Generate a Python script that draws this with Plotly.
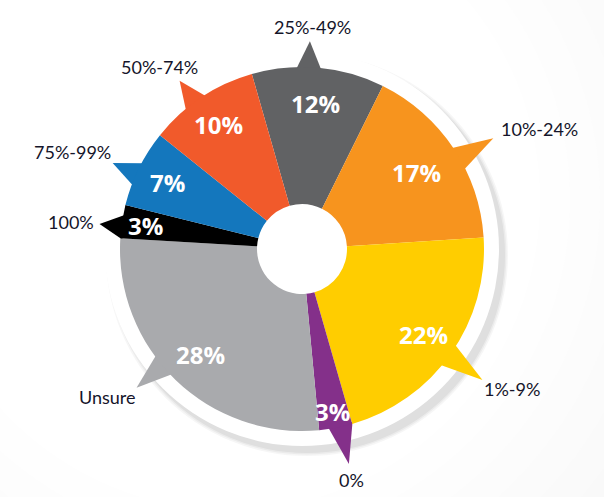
import math
import plotly.graph_objects as go

# ---- data ----
categories = ["25%-49%", "10%-24%", "1%-9%", "0%", "Unsure", "100%", "75%-99%", "50%-74%"]
values = [12, 17, 22, 3, 28, 3, 7, 10]
value_labels = ["12%", "17%", "22%", "3%", "28%", "3%", "7%", "10%"]

# ---- style ----
colors = ["#616264", "#f7941e", "#ffcd00", "#84308a", "#a9aaad", "#000000", "#1477bd", "#f15a2b"]
W, H = 604, 497
CX, CY, R = 302, 249, 182
HOLE_R = 45
RING_R = 197
ROTATION = -16
tip_offsets = [-3, 3.6, 0.8, -1.6, 6, -1.7, -1.9, -2.4]
tip_radii = [208, 221, 223, 220, 216, 204, 208, 208]
base_half = 4
label_offsets = [(3, -14), (6, -9), (0, 9), (3, 16), (1, 9), (-4, -2), (0, -11), (-20, -14)]
label_xanchor = ["center", "left", "left", "center", "right", "right", "right", "center"]
inner_radii = [146, 138, 149, 165, 146, 158, 150, 150]


def px(x):
    return x / W


def py(y):
    return 1 - y / H


def polar(angle_deg, r):
    a = math.radians(angle_deg)
    return CX + r * math.sin(a), CY - r * math.cos(a)


def circle(cx, cy, r, fill):
    return dict(type="circle", xref="paper", yref="paper",
                x0=px(cx - r), x1=px(cx + r), y0=py(cy + r), y1=py(cy - r),
                fillcolor=fill, line=dict(width=0), layer="below")


total = sum(values)
mids = []
acc = 0
for v in values:
    mids.append(ROTATION + (acc + v / 2) / total * 360)
    acc += v

shapes = []
# background very soft gradient (1-level steps)
shapes.append(dict(type="rect", xref="paper", yref="paper", x0=0, x1=1, y0=0, y1=1,
                   fillcolor="#f3f3f3", line=dict(width=0), layer="below"))
for k in range(12):
    lvl = 0xf4 + k
    if lvl > 0xff:
        lvl = 0xff
    r = 640 - k * 30
    shapes.append(circle(230, 200, r, "#%02x%02x%02x" % (lvl, lvl, lvl)))
# ring shadow (bottom-right only)
for r, a in [(201, 0.035), (199.5, 0.045), (198, 0.05)]:
    shapes.append(circle(CX + 5, CY + 6, r, "rgba(0,0,0,%s)" % a))
shapes.append(circle(CX, CY, RING_R, "#ffffff"))

# pointers
for i, m in enumerate(mids):
    ta = m + tip_offsets[i]
    tx, ty = polar(ta, tip_radii[i])
    b1x, b1y = polar(ta - base_half, R - 2)
    b2x, b2y = polar(ta + base_half, R - 2)
    path = "M %f %f L %f %f L %f %f Z" % (px(b1x), py(b1y), px(tx), py(ty), px(b2x), py(b2y))
    shapes.append(dict(type="path", xref="paper", yref="paper", path=path,
                       fillcolor=colors[i], line=dict(width=0), layer="below"))

fig = go.Figure()
fig.add_trace(go.Pie(
    labels=categories, values=values, sort=False, direction="clockwise",
    rotation=ROTATION, hole=HOLE_R / R, textinfo="none", hoverinfo="label+percent",
    marker=dict(colors=colors, line=dict(width=0)), showlegend=False,
    domain=dict(x=[px(CX - R), px(CX + R)], y=[py(CY + R), py(CY - R)]),
))

annotations = []
for i, m in enumerate(mids):
    x, y = polar(m, inner_radii[i])
    annotations.append(dict(x=px(x), y=py(y), xref="paper", yref="paper", showarrow=False,
                            text="<b>%s</b>" % value_labels[i], xanchor="center", yanchor="middle",
                            font=dict(family="Open Sans", size=24, color="#ffffff")))
    ta = m + tip_offsets[i]
    tx, ty = polar(ta, tip_radii[i])
    dx, dy = label_offsets[i]
    annotations.append(dict(x=px(tx + dx), y=py(ty + dy), xref="paper", yref="paper", showarrow=False,
                            text=categories[i], xanchor=label_xanchor[i], yanchor="middle",
                            font=dict(family="Lato", size=18, color="#15152a")))

fig.update_layout(
    width=W, height=H, margin=dict(l=0, r=0, t=0, b=0),
    paper_bgcolor="#ffffff", plot_bgcolor="#ffffff",
    shapes=shapes, annotations=annotations,
)
fig.write_html("out.html")
